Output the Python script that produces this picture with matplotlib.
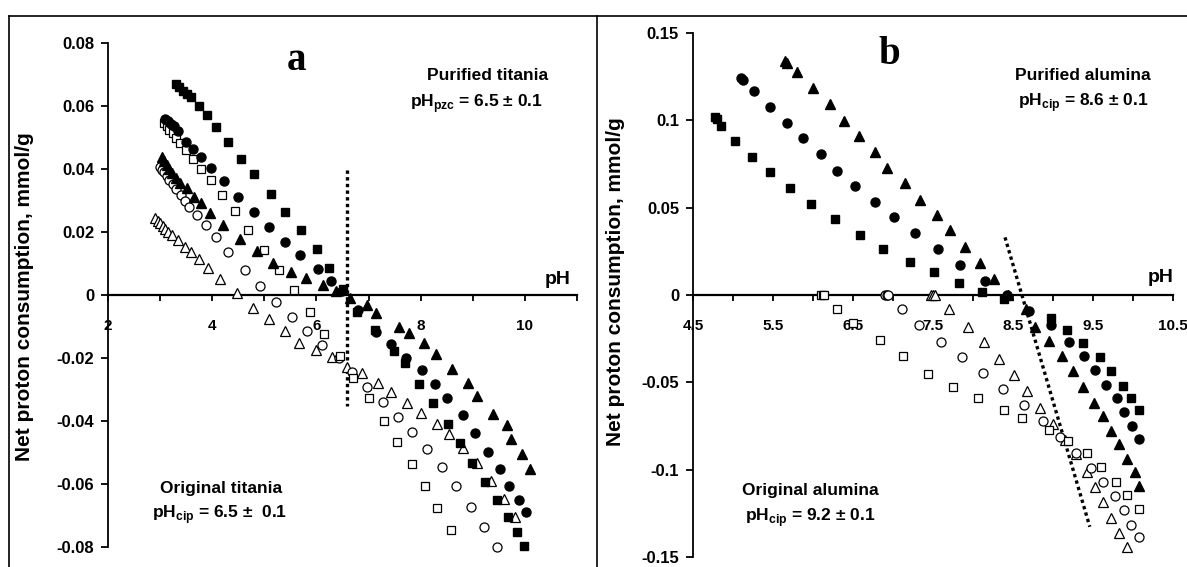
import matplotlib
matplotlib.use('Agg')
import matplotlib.pyplot as plt
from matplotlib.lines import Line2D
import numpy as np

plt.rcParams['font.family'] = ['Liberation Sans', 'DejaVu Sans']
plt.rcParams['font.weight'] = 'bold'
plt.rcParams['mathtext.fontset'] = 'custom'
plt.rcParams['mathtext.rm'] = 'Liberation Sans:bold'
plt.rcParams['mathtext.bf'] = 'Liberation Sans:bold'

# ---- panel a : titania ----
a_fsq_ph = [3.30, 3.37, 3.44, 3.51, 3.60, 3.75, 3.90, 4.08, 4.31, 4.56, 4.81, 5.12, 5.40, 5.70, 6.01, 6.25, 6.51,
            6.77, 7.12, 7.49, 7.69, 7.97, 8.24, 8.53, 8.76, 8.99, 9.23, 9.46, 9.67, 9.84, 9.99]
a_fsq_v = [0.0669, 0.0659, 0.0649, 0.0638, 0.0628, 0.0600, 0.0570, 0.0532, 0.0485, 0.0433, 0.0383, 0.0322, 0.0263,
           0.0206, 0.0147, 0.0087, 0.0020, -0.0053, -0.0111, -0.0178, -0.0217, -0.0283, -0.0343, -0.0410, -0.0471,
           -0.0532, -0.0595, -0.0650, -0.0705, -0.0753, -0.0796]

a_fci_ph = [3.10, 3.15, 3.20, 3.26, 3.35, 3.50, 3.63, 3.79, 3.97, 4.22, 4.49, 4.81, 5.09, 5.40, 5.68, 6.03, 6.27, 6.49,
            6.79, 7.15, 7.44, 7.71, 8.03, 8.28, 8.51, 8.81, 9.05, 9.29, 9.52, 9.70, 9.88, 10.03]
a_fci_v = [0.0559, 0.0551, 0.0544, 0.0535, 0.0522, 0.0487, 0.0463, 0.0439, 0.0402, 0.0362, 0.0312, 0.0265, 0.0215,
           0.0167, 0.0127, 0.0084, 0.0046, 0.0013, -0.0048, -0.0116, -0.0157, -0.0201, -0.0238, -0.0283, -0.0328,
           -0.0380, -0.0438, -0.0497, -0.0552, -0.0605, -0.0650, -0.0690]

a_ftr_ph = [3.03, 3.08, 3.13, 3.18, 3.23, 3.30, 3.38, 3.51, 3.65, 3.78, 3.95, 4.21, 4.53, 4.85, 5.17, 5.52, 5.79, 6.12,
            6.37, 6.65, 6.97, 7.14, 7.59, 7.78, 8.06, 8.29, 8.60, 8.90, 9.09, 9.39, 9.65, 9.74, 9.94, 10.09]
a_ftr_v = [0.0439, 0.0425, 0.0412, 0.0399, 0.0386, 0.0370, 0.0355, 0.0339, 0.0312, 0.0291, 0.0261, 0.0221, 0.0179,
           0.0141, 0.0103, 0.0073, 0.0053, 0.0031, 0.0014, -0.0010, -0.0032, -0.0058, -0.0101, -0.0122, -0.0153,
           -0.0187, -0.0234, -0.0280, -0.0320, -0.0378, -0.0413, -0.0458, -0.0504, -0.0553]

a_osq_ph = [3.08, 3.13, 3.18, 3.24, 3.31, 3.38, 3.49, 3.63, 3.79, 3.97, 4.19, 4.44, 4.69, 4.99, 5.28, 5.57, 5.87, 6.15,
            6.45, 6.71, 7.01, 7.29, 7.55, 7.84, 8.08, 8.32, 8.58]
a_osq_v = [0.0545, 0.0535, 0.0525, 0.0515, 0.0498, 0.0481, 0.0460, 0.0433, 0.0399, 0.0365, 0.0317, 0.0267, 0.0206,
           0.0143, 0.0079, 0.0016, -0.0055, -0.0124, -0.0194, -0.0265, -0.0328, -0.0399, -0.0468, -0.0537, -0.0607,
           -0.0677, -0.0745]

a_oci_ph = [3.00, 3.04, 3.08, 3.13, 3.18, 3.24, 3.31, 3.40, 3.47, 3.56, 3.71, 3.88, 4.08, 4.31, 4.62, 4.92, 5.23, 5.54,
            5.82, 6.11, 6.43, 6.69, 6.97, 7.28, 7.56, 7.83, 8.12, 8.40, 8.67, 8.96, 9.21, 9.46]
a_oci_v = [0.0407, 0.0398, 0.0389, 0.0378, 0.0366, 0.0352, 0.0335, 0.0316, 0.0300, 0.0280, 0.0254, 0.0221, 0.0183,
           0.0136, 0.0079, 0.0030, -0.0021, -0.0069, -0.0113, -0.0159, -0.0201, -0.0243, -0.0293, -0.0340, -0.0386,
           -0.0435, -0.0490, -0.0547, -0.0606, -0.0672, -0.0737, -0.0799]

a_otr_ph = [2.90, 2.95, 3.00, 3.05, 3.10, 3.16, 3.23, 3.35, 3.47, 3.59, 3.75, 3.92, 4.15, 4.48, 4.78, 5.09, 5.40, 5.67,
            6.00, 6.30, 6.59, 6.88, 7.18, 7.44, 7.73, 8.01, 8.32, 8.54, 8.81, 9.09, 9.35, 9.59, 9.81]
a_otr_v = [0.0243, 0.0235, 0.0227, 0.0219, 0.0210, 0.0200, 0.0190, 0.0175, 0.0153, 0.0137, 0.0114, 0.0085, 0.0050,
           0.0005, -0.0042, -0.0077, -0.0113, -0.0151, -0.0175, -0.0198, -0.0228, -0.0249, -0.0280, -0.0309, -0.0342,
           -0.0376, -0.0410, -0.0441, -0.0487, -0.0534, -0.0589, -0.0648, -0.0706]

a_pzc_x = [6.59, 6.59]
a_pzc_y = [0.0397, -0.0352]

a_xticks = [2, 3, 4, 5, 6, 7, 8, 9, 10, 11]
a_xlabels = ['2', '', '4', '', '6', '', '8', '', '10', '']
a_yticks = [0.08, 0.06, 0.04, 0.02, 0, -0.02, -0.04, -0.06, -0.08]
a_ylabels = ['0.08', '0.06', '0.04', '0.02', '0', '-0.02', '-0.04', '-0.06', '-0.08']

# ---- panel b : alumina ----
b_fsq_ph = [4.77, 4.80, 4.85, 5.02, 5.24, 5.46, 5.71, 5.98, 6.28, 6.59, 6.88, 7.21, 7.51, 7.83, 8.11, 8.39, 8.97, 9.17,
            9.38, 9.59, 9.72, 9.87, 9.98, 10.07]
b_fsq_v = [0.1021, 0.1010, 0.0968, 0.0882, 0.0792, 0.0703, 0.0611, 0.0521, 0.0434, 0.0342, 0.0262, 0.0191, 0.0134,
           0.0071, 0.0019, -0.0025, -0.0134, -0.0200, -0.0277, -0.0357, -0.0433, -0.0519, -0.0588, -0.0659]

b_fci_ph = [5.10, 5.12, 5.26, 5.46, 5.67, 5.88, 6.10, 6.30, 6.53, 6.78, 7.01, 7.28, 7.56, 7.84, 8.15, 8.42, 8.70, 8.97,
            9.20, 9.39, 9.53, 9.66, 9.80, 9.89, 9.99, 10.08]
b_fci_v = [0.1241, 0.1230, 0.1168, 0.1075, 0.0987, 0.0897, 0.0806, 0.0712, 0.0626, 0.0534, 0.0445, 0.0353, 0.0262,
           0.0172, 0.0082, 0.0000, -0.0090, -0.0172, -0.0267, -0.0349, -0.0430, -0.0515, -0.0592, -0.0672, -0.0748,
           -0.0825]

b_ftr_ph = [5.65, 5.68, 5.80, 6.00, 6.21, 6.39, 6.58, 6.78, 6.93, 7.15, 7.34, 7.55, 7.71, 7.90, 8.09, 8.26, 8.44, 8.66,
            8.78, 8.95, 9.11, 9.25, 9.37, 9.51, 9.63, 9.72, 9.82, 9.92, 10.02, 10.07]
b_ftr_v = [0.1340, 0.1330, 0.1279, 0.1184, 0.1092, 0.0998, 0.0912, 0.0821, 0.0726, 0.0640, 0.0544, 0.0458, 0.0372,
           0.0277, 0.0182, 0.0090, 0.0000, -0.0082, -0.0185, -0.0263, -0.0349, -0.0433, -0.0529, -0.0617, -0.0693,
           -0.0777, -0.0853, -0.0939, -0.1012, -0.1092]

b_osq_ph = [6.10, 6.12, 6.14, 6.30, 6.50, 6.84, 7.12, 7.44, 7.75, 8.06, 8.39, 8.61, 8.95, 9.19, 9.42, 9.60, 9.79, 9.93,
            10.07]
b_osq_v = [0.0, 0.0, 0.0, -0.0082, -0.0159, -0.0258, -0.0349, -0.0452, -0.0529, -0.0592, -0.0659, -0.0706, -0.0773,
           -0.0834, -0.0907, -0.0987, -0.1069, -0.1145, -0.1227]

b_oci_ph = [6.90, 6.92, 6.94, 7.11, 7.33, 7.60, 7.86, 8.12, 8.37, 8.64, 8.87, 9.09, 9.29, 9.47, 9.62, 9.78, 9.89, 9.98,
            10.08]
b_oci_v = [0.0, 0.0, 0.0, -0.0082, -0.0172, -0.0267, -0.0357, -0.0449, -0.0538, -0.0630, -0.0720, -0.0811, -0.0903,
           -0.0989, -0.1069, -0.1149, -0.1231, -0.1317, -0.1388]

b_otr_ph = [7.48, 7.50, 7.52, 7.70, 7.94, 8.14, 8.32, 8.51, 8.68, 8.84, 9.00, 9.15, 9.29, 9.42, 9.53, 9.63, 9.73, 9.83,
            9.92]
b_otr_v = [0.0, 0.0, 0.0, -0.0082, -0.0181, -0.0271, -0.0367, -0.0458, -0.0548, -0.0645, -0.0739, -0.0830, -0.0911,
           -0.1012, -0.1098, -0.1187, -0.1275, -0.1361, -0.1442]

b_cip_x = [8.40, 9.46]
b_cip_y = [0.033, -0.1327]

b_xticks = [4.5, 5.0, 5.5, 6.0, 6.5, 7.0, 7.5, 8.0, 8.5, 9.0, 9.5, 10.0, 10.5]
b_xlabels = ['4.5', '', '5.5', '', '6.5', '', '7.5', '', '8.5', '', '9.5', '', '10.5']
b_yticks = [0.15, 0.1, 0.05, 0, -0.05, -0.1, -0.15]
b_ylabels = ['0.15', '0.1', '0.05', '0', '-0.05', '-0.1', '-0.15']

W, H = 1187, 567
fig = plt.figure(figsize=(W / 100, H / 100), dpi=100)


def fx(px):
    return px / W


def fy(py):
    return 1 - py / H


def series(ax, x, y, marker, filled, ms):
    if filled:
        ax.plot(x, y, marker, ls='none', ms=ms, color='black', zorder=3, clip_on=False)
    else:
        ax.plot(x, y, marker, ls='none', ms=ms, mfc='white', mec='black', mew=0.9, zorder=3, clip_on=False)


def style(ax, xticks, xlabels, yticks, ylabels):
    ax.spines['top'].set_visible(False)
    ax.spines['right'].set_visible(False)
    ax.spines['bottom'].set_position(('data', 0))
    ax.spines['bottom'].set_linewidth(1.6)
    ax.spines['left'].set_linewidth(1.3)
    ax.set_xticks(xticks, xlabels)
    ax.set_yticks(yticks, ylabels)
    ax.tick_params(axis='x', direction='out', length=4, width=1.3, pad=13, labelsize=11)
    ax.tick_params(axis='y', direction='out', length=5, width=1.3, pad=5, labelsize=12)
    for lab in ax.get_xticklabels() + ax.get_yticklabels():
        lab.set_fontweight('bold')
    ax.patch.set_alpha(0)


# panel a
axa = fig.add_axes([fx(108), 20 / H, 469 / W, 504 / H])
axa.set_xlim(2, 11)
axa.set_ylim(-0.08, 0.08)
style(axa, a_xticks, a_xlabels, a_yticks, a_ylabels)
axa.plot(a_pzc_x, a_pzc_y, ls=(0, (1, 1)), color='black', lw=2.4, zorder=2)
series(axa, a_otr_ph, a_otr_v, '^', False, 7)
series(axa, a_oci_ph, a_oci_v, 'o', False, 6.5)
series(axa, a_osq_ph, a_osq_v, 's', False, 6)
series(axa, a_ftr_ph, a_ftr_v, '^', True, 7)
series(axa, a_fci_ph, a_fci_v, 'o', True, 6.5)
series(axa, a_fsq_ph, a_fsq_v, 's', True, 6)

# panel b
axb = fig.add_axes([fx(693), 10 / H, 480 / W, 524 / H])
axb.set_xlim(4.5, 10.5)
axb.set_ylim(-0.15, 0.15)
style(axb, b_xticks, b_xlabels, b_yticks, b_ylabels)
axb.plot(b_cip_x, b_cip_y, ls=(0, (1, 1)), color='black', lw=2.4, zorder=2)
series(axb, b_otr_ph, b_otr_v, '^', False, 7)
series(axb, b_oci_ph, b_oci_v, 'o', False, 6.5)
series(axb, b_osq_ph, b_osq_v, 's', False, 6)
series(axb, b_ftr_ph, b_ftr_v, '^', True, 7)
series(axb, b_fci_ph, b_fci_v, 'o', True, 6.5)
series(axb, b_fsq_ph, b_fsq_v, 's', True, 6)

# texts
ylab = 'Net proton consumption, mmol/g'
fig.text(fx(25), fy(297), ylab, rotation=90, ha='center', va='center', fontsize=15, fontweight='bold')
fig.text(fx(616), fy(282), ylab, rotation=90, ha='center', va='center', fontsize=15, fontweight='bold')

fig.text(fx(558), fy(280), 'pH', ha='center', va='center', fontsize=14, fontweight='bold')
fig.text(fx(1161), fy(278), 'pH', ha='center', va='center', fontsize=14, fontweight='bold')

fig.text(fx(296), fy(60), 'a', ha='center', va='center', fontsize=28, fontweight='bold', family='Liberation Serif')
fig.text(fx(889), fy(54), 'b', ha='center', va='center', fontsize=28, fontweight='bold', family='Liberation Serif')

fs = 12.5
fig.text(fx(488), fy(76), 'Purified titania', ha='center', va='center', fontsize=fs, fontweight='bold')
fig.text(fx(476), fy(104), r'pH$_{\mathbf{pzc}}$ = 6.5 ± 0.1', ha='center', va='center', fontsize=fs,
         fontweight='bold')
fig.text(fx(221), fy(488), 'Original titania', ha='center', va='center', fontsize=fs, fontweight='bold')
fig.text(fx(220), fy(515), r'pH$_{\mathbf{cip}}$ = 6.5 ±  0.1', ha='center', va='center', fontsize=fs,
         fontweight='bold')
fig.text(fx(1083), fy(76), 'Purified alumina', ha='center', va='center', fontsize=fs, fontweight='bold')
fig.text(fx(1083), fy(103), r'pH$_{\mathbf{cip}}$ = 8.6 ± 0.1', ha='center', va='center', fontsize=fs,
         fontweight='bold')
fig.text(fx(810), fy(490), 'Original alumina', ha='center', va='center', fontsize=fs, fontweight='bold')
fig.text(fx(810), fy(518), r'pH$_{\mathbf{cip}}$ = 9.2 ± 0.1', ha='center', va='center', fontsize=fs,
         fontweight='bold')

# frame lines around the panels
fig.add_artist(Line2D([fx(8.5), fx(8.5)], [0, fy(15.5)], transform=fig.transFigure, color='black', lw=1.2))
fig.add_artist(Line2D([fx(8.5), 1], [fy(15.5), fy(15.5)], transform=fig.transFigure, color='black', lw=1.2))
fig.add_artist(Line2D([fx(597), fx(597)], [0, fy(15.5)], transform=fig.transFigure, color='black', lw=1.2))

fig.savefig('out.png', dpi=100)
